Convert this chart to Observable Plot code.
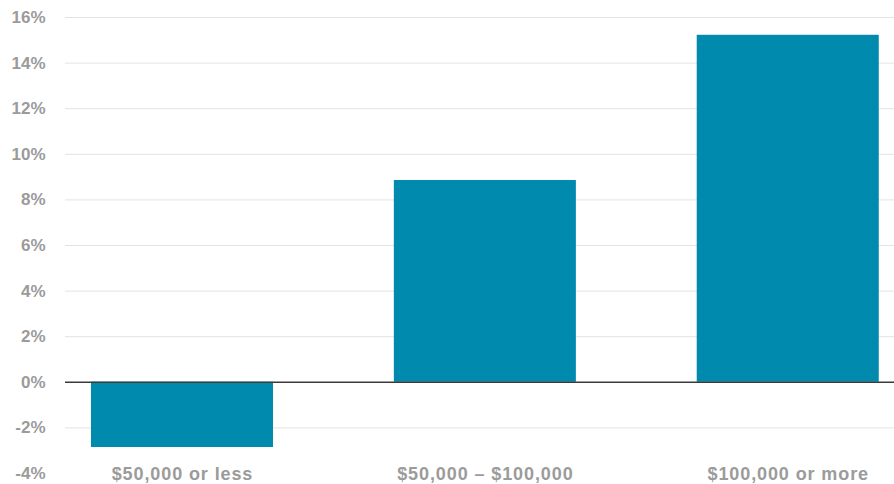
<!DOCTYPE html>
<html>
<head>
<meta charset="utf-8">
<script src="https://cdn.jsdelivr.net/npm/d3@7"></script>
<script src="https://cdn.jsdelivr.net/npm/@observablehq/plot@0.6"></script>
<style>
  html, body { margin: 0; padding: 0; background: #fff; }
  #chart svg { display: block; }
  .xlab text { letter-spacing: 0.9px; }
</style>
</head>
<body>
<div id="chart"></div>
<script>
const categories = ["$50,000 or less", "$50,000 – $100,000", "$100,000 or more"];
const values = [-2.86, 8.85, 15.22];
const yTicks = [-4, -2, 0, 2, 4, 6, 8, 10, 12, 14, 16];
const gridTicks = [-2, 2, 4, 6, 8, 10, 12, 14, 16];

const data = categories.map((c, i) => ({category: c, value: values[i]}));

const chart = Plot.plot({
  width: 894,
  height: 484,
  marginTop: 17,
  marginBottom: 11,
  marginLeft: 65,
  marginRight: 0,
  style: {fontFamily: "'Liberation Sans', Arial, sans-serif", background: "#fff"},
  x: {domain: categories, paddingInner: 0.399, paddingOuter: 0.068, align: 0.63, round: false, axis: null},
  y: {domain: [-4, 16], axis: null},
  marks: [
    Plot.ruleY(gridTicks, {stroke: "#e3e3e3", strokeWidth: 1}),
    Plot.axisY({ticks: yTicks, tickSize: 0, tickPadding: 20, tickFormat: d => d + "%",
      fill: "#9b9b9b", fontSize: 17, fontWeight: "bold", label: null}),
    Plot.barY(data, {x: "category", y: "value", fill: "#008bae"}),
    Plot.ruleY([0], {stroke: "#3a3a3a", strokeWidth: 1.5}),
    Plot.text(categories, {x: d => d, y: () => -4, text: d => d, dy: 1,
      fill: "#9b9b9b", fontSize: 18, fontWeight: "bold", lineAnchor: "middle",
      className: "xlab"})
  ]
});
document.getElementById("chart").appendChild(chart);
</script>
</body>
</html>
